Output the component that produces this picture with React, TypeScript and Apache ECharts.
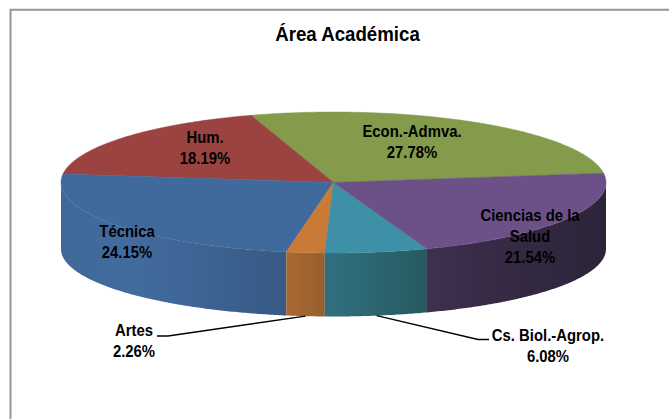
import React, { useEffect, useRef } from "react";
import * as echarts from "echarts";

const titleText = "Área Académica";
const categories = ["Econ.-Admva.", "Hum.", "Técnica", "Artes", "Cs. Biol.-Agrop.", "Ciencias de la\nSalud"];
const shares = [27.78, 18.19, 24.15, 2.26, 6.08, 21.54];

const topColors = ["#839b4b", "#9b4340", "#416a9c", "#c97a37", "#3d90a6", "#6b5188"];
const wallColors = [
  ["#6b7f3d", "#6b7f3d", "#5c6d34"],
  ["#7f3735", "#7f3735", "#6d2f2d"],
  ["#3e6897", "#426c9f", "#375a85"],
  ["#a8672f", "#a5652f", "#95602f"],
  ["#2f7080", "#2d6a78", "#27595f"],
  ["#40304f", "#382b47", "#2c2439"],
];

const CX = 333.5, CY = 182.5, RX = 272.5, RY = 70.5, START_DEG = 7.6;
const BASE_CY = 249, BASE_RY = 67.5;
const FONT = 'bold 17px "Liberation Sans", Arial, sans-serif';
const LABEL_SQUEEZE = 0.875;
const labelCenters = [[412, 142], [205, 148], [127, 241.5], [134, 340.5], [548, 345.5], [530, 236.5]];
const leaderRoutes: Record<number, number[][]> = {
  3: [[168, 336], [157, 336]],
  4: [[478, 339.5], [489, 339.5]],
};

function rim(t: number, base = false) {
  const r = (t * Math.PI) / 180;
  return [CX + RX * Math.cos(r), (base ? BASE_CY : CY) - (base ? BASE_RY : RY) * Math.sin(r)];
}

function arc(a: number, b: number, base = false) {
  const n = Math.max(2, Math.ceil(Math.abs(b - a) * 2));
  const pts: number[][] = [];
  for (let i = 0; i <= n; i++) pts.push(rim(a + ((b - a) * i) / n, base));
  return pts;
}

function renderSlice(params: any, api: any) {
  const i = params.dataIndex;
  const total = shares.reduce((s, v) => s + v, 0);
  const before = shares.slice(0, i).reduce((s, v) => s + v, 0);
  const a = START_DEG + (before / total) * 360;
  const b = a + ((api.value(0) as number) / total) * 360;
  const children: any[] = [];

  // outer wall: only the part facing the viewer, between 180 and 360 degrees
  const wa = Math.max(a, 180);
  const wb = Math.min(b, 360);
  if (wb > wa) {
    const grad = new echarts.graphic.LinearGradient(0, 0, 1, 0, [
      { offset: 0, color: wallColors[i][0] },
      { offset: 0.3, color: wallColors[i][1] },
      { offset: 1, color: wallColors[i][2] },
    ]);
    children.push({
      type: "polygon",
      z2: 1,
      shape: { points: [...arc(wa, wb), ...arc(wa, wb, true).reverse()] },
      style: { fill: grad },
      silent: true,
    });
  }

  // top face
  children.push({
    type: "polygon",
    z2: 2,
    shape: { points: [[CX, CY], ...arc(a, b)] },
    style: { fill: topColors[i], stroke: topColors[i], lineWidth: 0.5 },
    silent: true,
  });

  // leader line from the wall's bottom rim
  if (leaderRoutes[i]) {
    children.push({
      type: "polyline",
      z2: 3,
      shape: { points: [rim((a + b) / 2, true), ...leaderRoutes[i]] },
      style: { stroke: "#000000", lineWidth: 1.4, fill: "none" },
      silent: true,
    });
  }

  // label
  children.push({
    type: "text",
    z2: 4,
    x: labelCenters[i][0],
    y: labelCenters[i][1],
    scaleX: LABEL_SQUEEZE,
    style: {
      text: `${categories[i]}\n${(api.value(0) as number).toFixed(2)}%`,
      font: FONT,
      fill: "#000000",
      align: "center",
      verticalAlign: "middle",
      lineHeight: 21,
    },
    silent: true,
  });

  return { type: "group", children };
}

export default function App() {
  const ref = useRef<HTMLDivElement>(null);
  useEffect(() => {
    const chart = echarts.init(ref.current!, null, { renderer: "svg" });
    chart.setOption({
      animation: false,
      backgroundColor: "#ffffff",
      graphic: [
        { type: "line", z: -1, shape: { x1: 10.5, y1: 9.7, x2: 669, y2: 9.7 }, style: { stroke: "#969696", lineWidth: 2 } },
        { type: "line", z: -1, shape: { x1: 10.5, y1: 9, x2: 10.5, y2: 419 }, style: { stroke: "#969696", lineWidth: 2 } },
        {
          type: "text",
          x: 347.5,
          y: 34,
          scaleX: 0.89,
          style: {
            text: titleText,
            font: 'bold 21px "Liberation Sans", Arial, sans-serif',
            fill: "#000000",
            align: "center",
            verticalAlign: "middle",
          },
        },
      ],
      series: [
        {
          type: "custom",
          coordinateSystem: "none",
          renderItem: renderSlice,
          data: shares.map((v, i) => ({ name: categories[i].replace("\n", " "), value: [v] })),
        },
      ],
    });
    return () => chart.dispose();
  }, []);
  return <div ref={ref} style={{ position: "absolute", left: 0, top: 0, width: 669, height: 419 }} />;
}
